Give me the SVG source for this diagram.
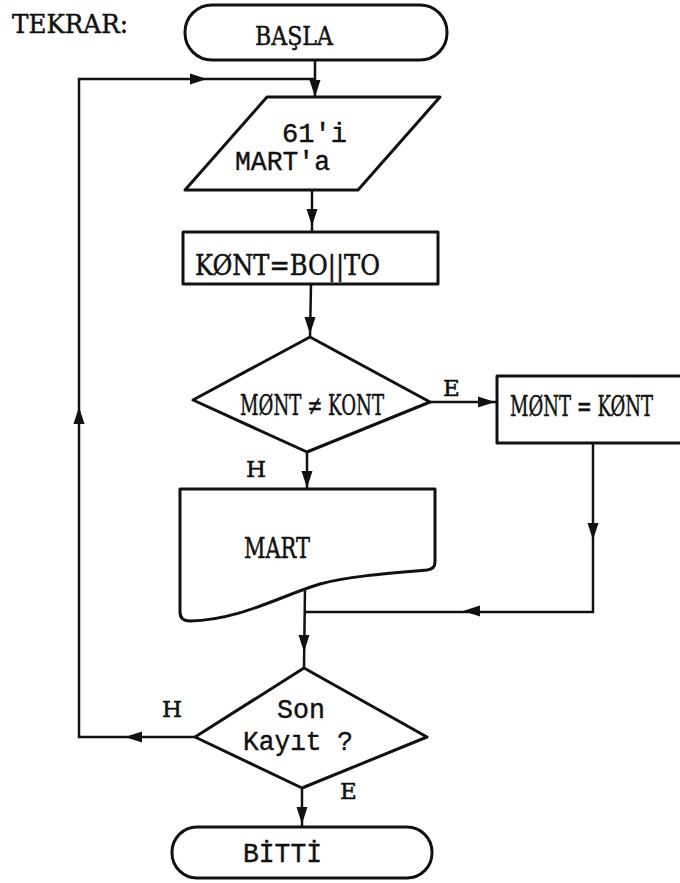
<svg xmlns="http://www.w3.org/2000/svg" xmlns:xlink="http://www.w3.org/1999/xlink" width="680" height="883" viewBox="0 0 680 883">
<style>
.shape{fill:none;stroke:#111;stroke-width:3;stroke-linejoin:round}
.conn{fill:none;stroke:#111;stroke-width:2.5}
.serif{font-family:"DejaVu Serif","Liberation Serif",serif;fill:#111;stroke:#111;stroke-width:0.5}
.mono{font-family:"Liberation Mono","DejaVu Sans Mono",monospace;fill:#111;stroke:#111;stroke-width:0.4}
</style>
<defs>
<polygon id="ah" points="0,0 -17,-5.5 -17,5.5" fill="#111"/>
</defs>
<rect width="680" height="883" fill="#fff"/>
<text class="serif" x="12" y="33" font-size="26" textLength="116" lengthAdjust="spacingAndGlyphs">TEKRAR:</text>
<g id="connectors">
<path class="conn" d="M315,60 V97"/>
<use xlink:href="#ah" transform="translate(315,97) rotate(90)"/>
<path class="conn" d="M312,190 V232"/>
<use xlink:href="#ah" transform="translate(312,226) rotate(90)"/>
<path class="conn" d="M311,284 L310,337"/>
<use xlink:href="#ah" transform="translate(310,334) rotate(90)"/>
<path class="conn" d="M430,402 H497"/>
<use xlink:href="#ah" transform="translate(495,402)"/>
<path class="conn" d="M307,452 V489"/>
<use xlink:href="#ah" transform="translate(307,488) rotate(90)"/>
<path class="conn" d="M593,443 V612 H305"/>
<use xlink:href="#ah" transform="translate(593,540) rotate(90)"/>
<use xlink:href="#ah" transform="translate(463,611) rotate(180)"/>
<path class="conn" d="M305,588 L304,668"/>
<use xlink:href="#ah" transform="translate(304,652) rotate(90)"/>
<path class="conn" d="M195,737 H79 V79 H315"/>
<use xlink:href="#ah" transform="translate(125,737) rotate(180)"/>
<use xlink:href="#ah" transform="translate(79,407) rotate(-90)"/>
<use xlink:href="#ah" transform="translate(207,79)"/>
<path class="conn" d="M302,788 V827"/>
<use xlink:href="#ah" transform="translate(302,824) rotate(90)"/>
</g>
<g id="basla">
<rect class="shape" x="185" y="5" width="262" height="55" rx="27" ry="27"/>
<text class="serif" x="255" y="45" font-size="26" textLength="78" lengthAdjust="spacingAndGlyphs">BAŞLA</text>
</g>
<g id="input">
<polygon class="shape" points="267,97 440,97 358,190 185,190"/>
<text class="mono" x="282" y="142" font-size="27" textLength="65" lengthAdjust="spacingAndGlyphs">61'i</text>
<text class="mono" x="235" y="170" font-size="27" textLength="95" lengthAdjust="spacingAndGlyphs">MART'a</text>
</g>
<g id="assign">
<rect class="shape" x="183" y="232" width="255" height="52"/>
<text class="serif" x="195" y="275" font-size="28" textLength="185" lengthAdjust="spacingAndGlyphs">KØNT=BO||TO</text>
</g>
<g id="decision1">
<polygon class="shape" points="310,337 430,402 307,452 193,400"/>
<text class="serif" x="240" y="415" font-size="28" textLength="144" lengthAdjust="spacingAndGlyphs">MØNT ≠ KONT</text>
<text class="serif" x="443" y="396" font-size="23">E</text>
<text class="serif" x="246" y="477" font-size="23">H</text>
</g>
<g id="update">
<rect class="shape" x="497" y="376" width="195" height="67"/>
<text class="serif" x="510" y="416" font-size="28" textLength="143" lengthAdjust="spacingAndGlyphs">MØNT = KØNT</text>
</g>
<g id="document">
<path class="shape" d="M180,489 H435 V562 Q435,569 427,570 C380,574 345,577 320,584 C280,596 240,620 190,621 Q180,621 180,612 Z"/>
<text class="serif" x="244" y="558" font-size="27" textLength="66" lengthAdjust="spacingAndGlyphs">MART</text>
</g>
<g id="decision2">
<polygon class="shape" points="304,668 427,737 302,788 195,737"/>
<text class="mono" x="277" y="718" font-size="27" textLength="48" lengthAdjust="spacingAndGlyphs">Son</text>
<text class="mono" x="243" y="750" font-size="27" textLength="110" lengthAdjust="spacingAndGlyphs">Kayıt ?</text>
<text class="serif" x="162" y="717" font-size="23">H</text>
<text class="serif" x="340" y="799" font-size="23">E</text>
</g>
<g id="bitti">
<rect class="shape" x="172" y="827" width="260" height="51" rx="25" ry="25"/>
<text class="mono" x="243" y="862" font-size="27" textLength="79" lengthAdjust="spacingAndGlyphs">BİTTİ</text>
</g>
</svg>
